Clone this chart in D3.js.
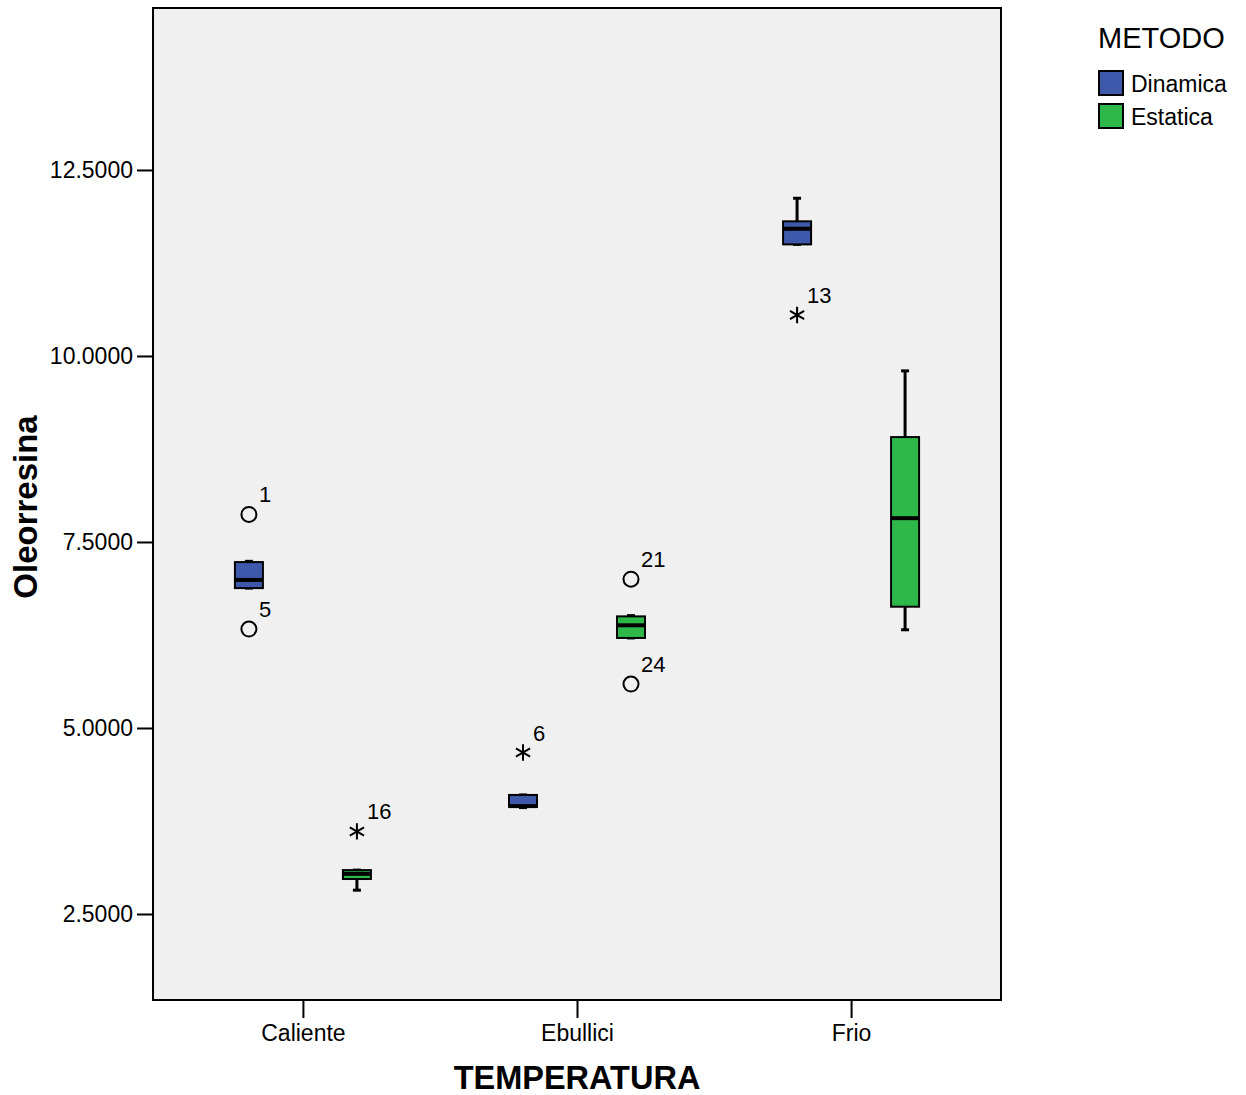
<!DOCTYPE html>
<html lang="es">
<head>
<meta charset="UTF-8" />
<title>Oleorresina por TEMPERATURA</title>
<script src="https://cdn.jsdelivr.net/npm/d3@7/dist/d3.min.js"></script>
<style>
  body { margin: 0; background: #fff; }
  text { font-family: "Liberation Sans", Arial, sans-serif; fill: #000; }
</style>
</head>
<body>
<svg id="svg"></svg>
<script>
  const categories = ["Caliente", "Ebullici", "Frio"];
  const methods = ["Dinamica", "Estatica"];
  const colors = ["#3E58AC", "#2EB84A"];
  const yTicks = [2.5, 5, 7.5, 10, 12.5];

  // box stats per [category][method]
  const whiskerLow  = [[6.88, 2.82], [3.93, 6.21], [11.50, 6.32]];
  const q1          = [[6.88, 2.97], [3.94, 6.21], [11.50, 6.63]];
  const median      = [[6.99, 3.04], [3.95, 6.38], [11.71, 7.82]];
  const q3          = [[7.23, 3.09], [4.10, 6.50], [11.81, 8.91]];
  const whiskerHigh = [[7.24, 3.09], [4.10, 6.51], [12.12, 9.80]];

  // outliers: [category, method, value, label, kind]
  const outliers = [
    ["Caliente", "Dinamica", 7.87, "1", "o"],
    ["Caliente", "Dinamica", 6.33, "5", "o"],
    ["Caliente", "Estatica", 3.61, "16", "*"],
    ["Ebullici", "Dinamica", 4.67, "6", "*"],
    ["Ebullici", "Estatica", 7.00, "21", "o"],
    ["Ebullici", "Estatica", 5.59, "24", "o"],
    ["Frio", "Dinamica", 10.55, "13", "*"]
  ];

  const width = 1246, height = 1095;
  const plot = { left: 153, right: 1001, top: 8, bottom: 1000 };
  const boxW = 28;

  const svg = d3.select("#svg").attr("width", width).attr("height", height);

  const x = d3.scalePoint().domain(categories)
    .range([plot.left, plot.right]).padding(0.547);
  const xm = d3.scalePoint().domain(methods).range([-54, 54]);
  const y = d3.scaleLinear().domain([1.344, 14.677])
    .range([plot.bottom, plot.top]);

  svg.append("rect")
    .attr("x", plot.left).attr("y", plot.top)
    .attr("width", plot.right - plot.left).attr("height", plot.bottom - plot.top)
    .attr("fill", "#F0F0F0");

  // axes
  const yAxis = d3.axisLeft(y).tickValues(yTicks).tickSize(16).tickPadding(4)
    .tickFormat(d3.format(".4f"));
  const yg = svg.append("g").attr("transform", `translate(${plot.left},0)`).call(yAxis);
  yg.select(".domain").remove();
  yg.selectAll(".tick line").attr("stroke", "#000").attr("stroke-width", 2);
  yg.selectAll(".tick text").attr("font-size", 23).attr("font-family", null);

  const xAxis = d3.axisBottom(x).tickSize(18).tickPadding(7);
  const xg = svg.append("g").attr("transform", `translate(0,${plot.bottom})`).call(xAxis);
  xg.select(".domain").remove();
  xg.selectAll(".tick line").attr("stroke", "#000").attr("stroke-width", 2);
  xg.selectAll(".tick text").attr("font-size", 23).attr("font-family", null);

  // boxes
  const boxes = [];
  categories.forEach((c, i) => methods.forEach((m, j) => {
    boxes.push({ c, m, j, lo: whiskerLow[i][j], q1: q1[i][j], med: median[i][j],
      q3: q3[i][j], hi: whiskerHigh[i][j] });
  }));

  const bg = svg.append("g").selectAll("g").data(boxes).join("g")
    .attr("transform", d => `translate(${x(d.c) + xm(d.m)},0)`);

  bg.append("line").attr("y1", d => y(d.hi)).attr("y2", d => y(d.q3))
    .attr("stroke", "#000").attr("stroke-width", 3);
  bg.append("line").attr("y1", d => y(d.q1)).attr("y2", d => y(d.lo))
    .attr("stroke", "#000").attr("stroke-width", 3);
  bg.append("line").attr("x1", -4).attr("x2", 4)
    .attr("y1", d => y(d.hi)).attr("y2", d => y(d.hi))
    .attr("stroke", "#000").attr("stroke-width", 3);
  bg.append("line").attr("x1", -4).attr("x2", 4)
    .attr("y1", d => y(d.lo)).attr("y2", d => y(d.lo))
    .attr("stroke", "#000").attr("stroke-width", 3);
  bg.append("rect").attr("x", -boxW / 2).attr("width", boxW)
    .attr("y", d => y(d.q3)).attr("height", d => y(d.q1) - y(d.q3))
    .attr("fill", d => colors[d.j]).attr("stroke", "#000").attr("stroke-width", 2);
  bg.append("line").attr("x1", -boxW / 2).attr("x2", boxW / 2)
    .attr("y1", d => y(d.med)).attr("y2", d => y(d.med))
    .attr("stroke", "#000").attr("stroke-width", 4);

  // outliers
  const og = svg.append("g").selectAll("g").data(outliers).join("g")
    .attr("transform", d => `translate(${x(d[0]) + xm(d[1])},${y(d[2])})`);
  og.filter(d => d[4] === "o").append("circle").attr("r", 7.5)
    .attr("fill", "none").attr("stroke", "#000").attr("stroke-width", 2);
  og.filter(d => d[4] === "*").append("path")
    .attr("d", d3.symbol(d3.symbolAsterisk, 190)())
    .attr("fill", "none").attr("stroke", "#000").attr("stroke-width", 2);
  og.append("text").attr("x", 10).attr("y", -12).attr("font-size", 22)
    .text(d => d[3]);

  // frame
  svg.append("rect")
    .attr("x", plot.left).attr("y", plot.top)
    .attr("width", plot.right - plot.left).attr("height", plot.bottom - plot.top)
    .attr("fill", "none").attr("stroke", "#000").attr("stroke-width", 2);

  // axis titles
  svg.append("text").attr("x", (plot.left + plot.right) / 2).attr("y", 1089)
    .attr("text-anchor", "middle").attr("font-size", 32.5).attr("font-weight", "bold")
    .text("TEMPERATURA");
  svg.append("text")
    .attr("transform", `translate(37,${(plot.top + plot.bottom) / 2 + 3}) rotate(-90)`)
    .attr("text-anchor", "middle").attr("font-size", 33).attr("font-weight", "bold")
    .text("Oleorresina");

  // legend
  const lg = svg.append("g").attr("transform", "translate(1098,0)");
  lg.append("text").attr("x", 0).attr("y", 48).attr("font-size", 29).text("METODO");
  const li = lg.selectAll("g").data(methods).join("g")
    .attr("transform", (d, i) => `translate(0,${71 + i * 33})`);
  li.append("rect").attr("x", 1).attr("y", 0).attr("width", 24).attr("height", 24)
    .attr("fill", (d, i) => colors[i]).attr("stroke", "#000").attr("stroke-width", 2);
  li.append("text").attr("x", 33).attr("y", 21).attr("font-size", 23).text(d => d);
</script>
</body>
</html>
